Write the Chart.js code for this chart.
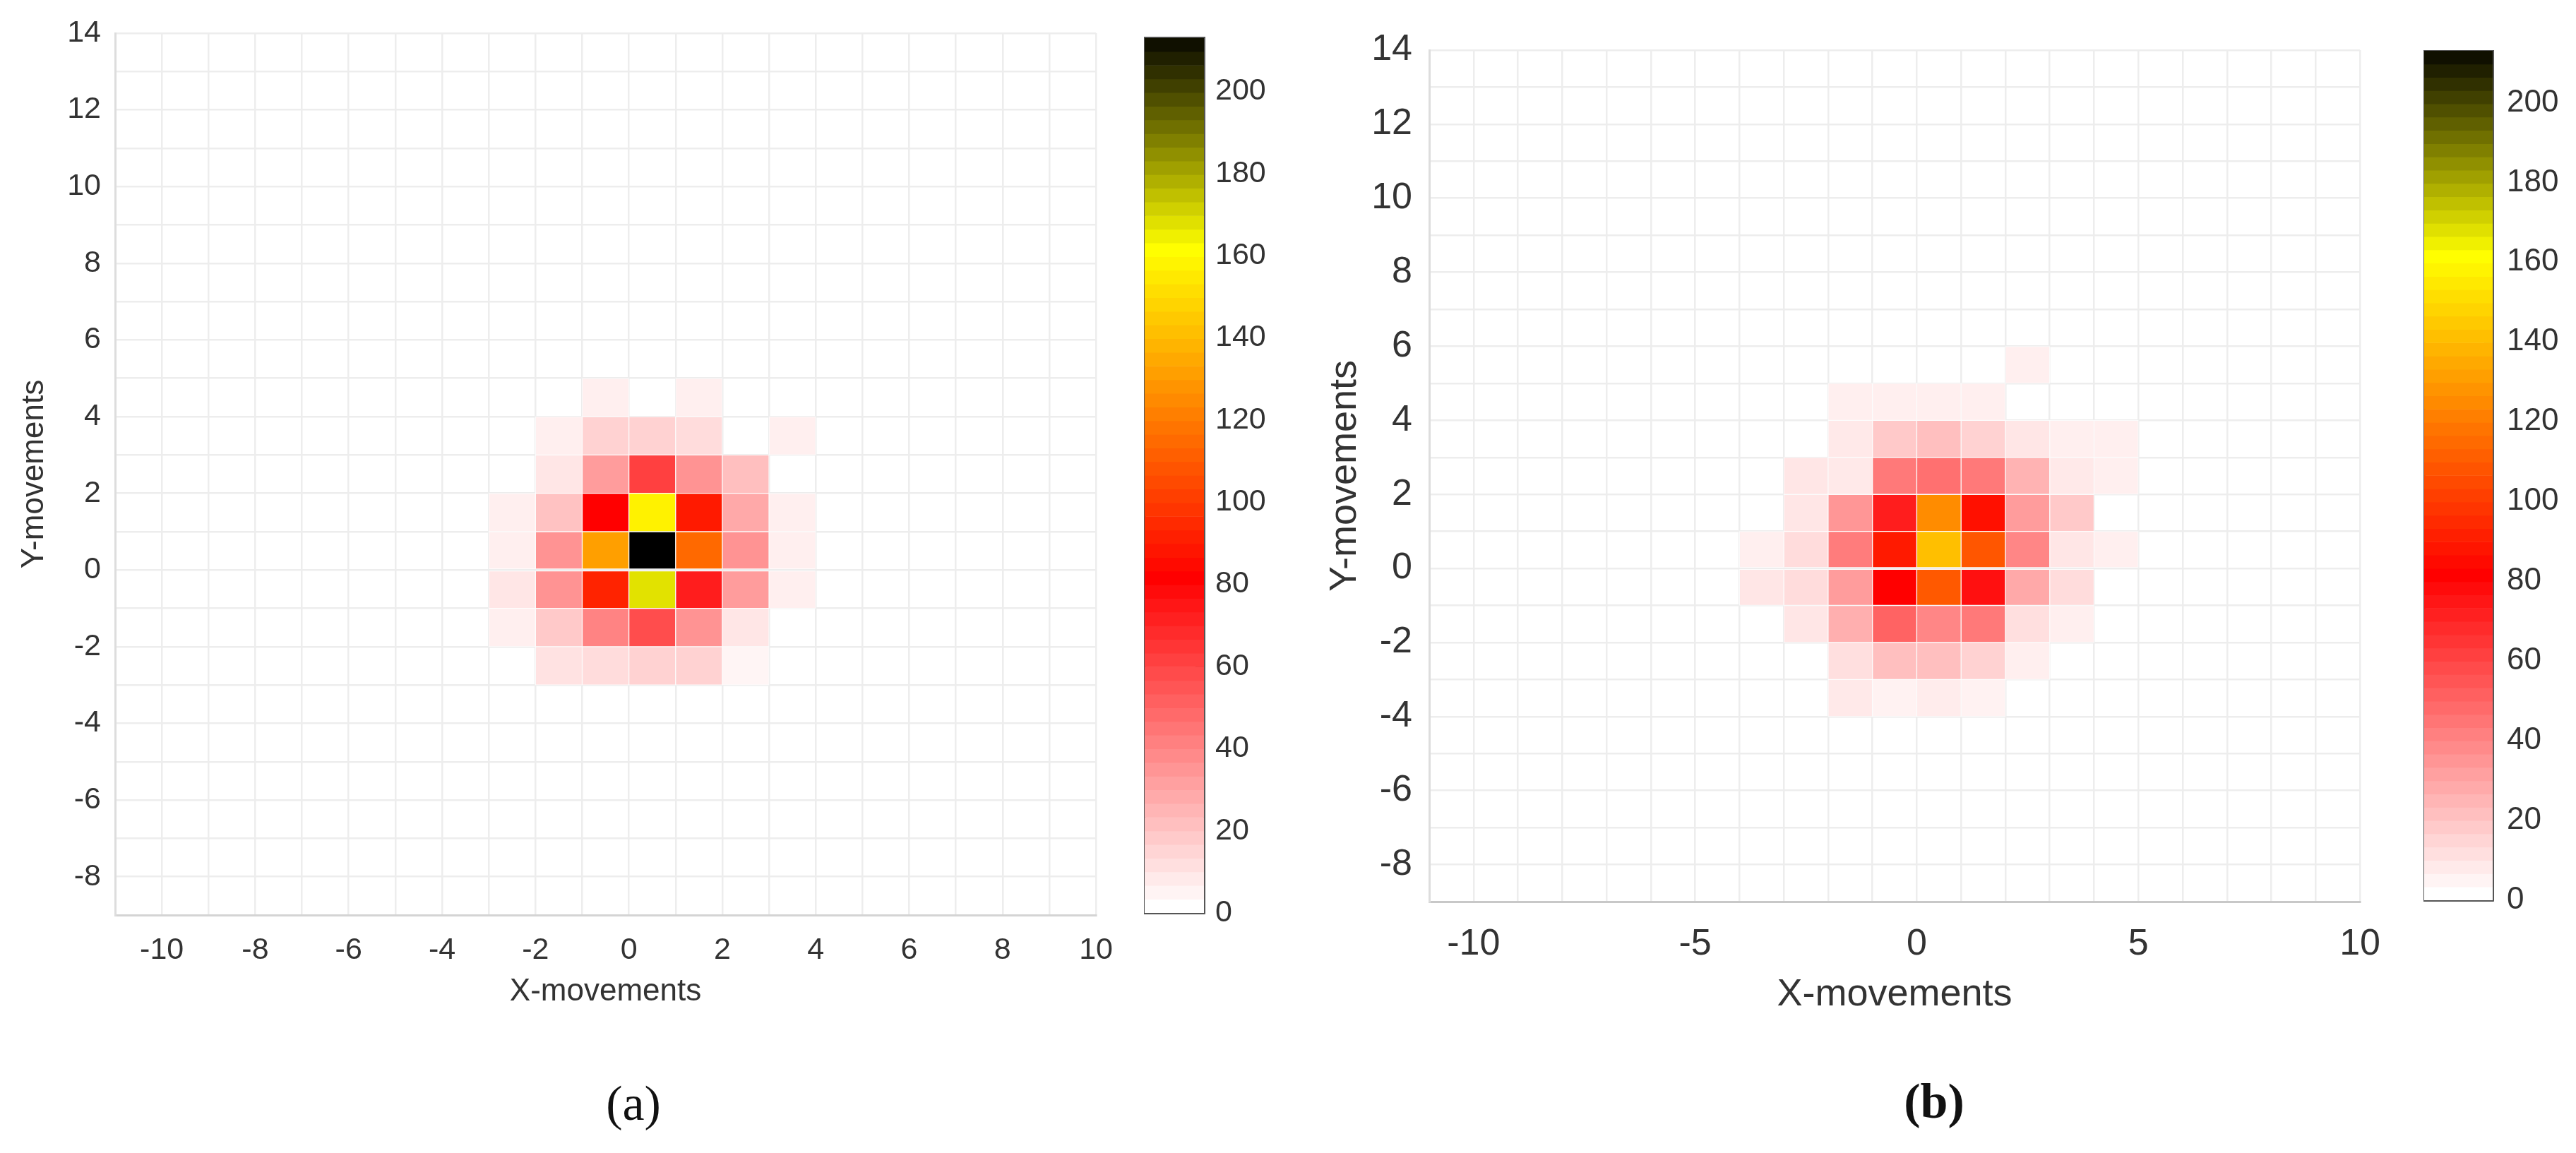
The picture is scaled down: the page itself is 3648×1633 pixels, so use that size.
<!DOCTYPE html>
<html>
<head>
<meta charset="utf-8">
<script src="https://cdn.jsdelivr.net/npm/chart.js@4.4.1/dist/chart.umd.min.js"></script>
<style>
  body { margin: 0; background: #fff; }
  #page { position: relative; width: 3648px; height: 1633px; background: #fff; overflow: hidden; }
  canvas { position: absolute; top: 0; }
  .tag { position: absolute; width: 400px; text-align: center; font-family: "Liberation Serif", serif; font-size: 70px; line-height: 80px; color: #111; }
</style>
</head>
<body>
<div id="page">
  <canvas id="heatA" width="1600" height="1500" style="left:0px"></canvas>
  <canvas id="barA" width="200" height="1400" style="left:1600px"></canvas>
  <canvas id="heatB" width="1600" height="1500" style="left:1800px"></canvas>
  <canvas id="barB" width="248" height="1400" style="left:3400px"></canvas>
  <div class="tag" style="left:697px; top:1523px;">(a)</div>
  <div class="tag" style="left:2539px; top:1520px; font-weight:bold;">(b)</div>
</div>
<script>
// cell lower-left corners (x across, y rows top to bottom)
const cellX = [-4, -3, -2, -1, 0, 1, 2, 3, 4];
const cellY = [5, 4, 3, 2, 1, 0, -1, -2, -3, -4];

// counts per cell, panel (a)
const countsA = [
  [0, 0, 0, 0, 0, 0, 0, 0, 0],
  [0, 0, 0, 5, 0, 5, 0, 0, 0],
  [0, 0, 5, 14, 14, 11, 0, 5, 0],
  [0, 0, 8, 31, 60, 34, 20, 0, 0],
  [0, 5, 19, 80, 156, 88, 27, 5, 0],
  [0, 5, 34, 130, 213, 113, 34, 5, 0],
  [0, 8, 34, 91, 166, 71, 31, 5, 0],
  [0, 5, 17, 39, 56, 34, 8, 0, 0],
  [0, 0, 9, 11, 14, 14, 3, 0, 0],
  [0, 0, 0, 0, 0, 0, 0, 0, 0]
];

// counts per cell, panel (b)
const countsB = [
  [0, 0, 0, 0, 0, 0, 5, 0, 0],
  [0, 0, 5, 5, 5, 5, 0, 0, 0],
  [0, 0, 7, 17, 20, 14, 8, 5, 5],
  [0, 8, 7, 42, 45, 42, 24, 7, 5],
  [0, 8, 33, 71, 124, 85, 31, 17, 0],
  [5, 11, 41, 88, 140, 107, 38, 8, 5],
  [8, 11, 31, 80, 108, 75, 27, 11, 0],
  [0, 8, 25, 49, 38, 42, 10, 5, 0],
  [0, 0, 10, 20, 20, 14, 5, 0, 0],
  [0, 0, 7, 4, 6, 4, 0, 0, 0]
];

const xTicksA = [-10, -8, -6, -4, -2, 0, 2, 4, 6, 8, 10];
const xTicksB = [-10, -5, 0, 5, 10];
const yTicks = [-8, -6, -4, -2, 0, 2, 4, 6, 8, 10, 12, 14];
const barTicks = [0, 20, 40, 60, 80, 100, 120, 140, 160, 180, 200];
const countMax = 213;
const levels = 64;

// white -> red -> yellow -> black
function heatColor(v) {
  let r, g, b;
  if (v <= 80) {
    const t = 1 - v / 80;
    r = 255; g = 255 * t; b = 255 * t;
  } else if (v <= 160) {
    r = 255; g = 255 * (v - 80) / 80; b = 0;
  } else {
    const t = Math.max(0, (countMax - v) / (countMax - 160));
    r = 255 * t; g = 255 * t; b = 0;
  }
  return 'rgb(' + Math.round(r) + ',' + Math.round(g) + ',' + Math.round(b) + ')';
}

function buildCells(counts) {
  const out = [];
  counts.forEach(function (row, r) {
    row.forEach(function (v, c) {
      if (v > 0) out.push({ x: cellX[c] + 0.5, y: [cellY[r], cellY[r] + 1], v: v });
    });
  });
  return out;
}

function heatmap(id, counts, opt) {
  return new Chart(document.getElementById(id), {
    type: 'bar',
    data: {
      datasets: [{
        data: buildCells(counts),
        backgroundColor: function (ctx) { return ctx.raw ? heatColor(ctx.raw.v) : '#fff'; },
        borderColor: 'rgba(255,255,255,0.75)',
        borderWidth: 1,
        borderSkipped: false,
        barPercentage: 1,
        categoryPercentage: 1
      }]
    },
    options: {
      responsive: false,
      animation: false,
      devicePixelRatio: 1,
      layout: { padding: { left: 0, top: opt.top, right: opt.right, bottom: 0 } },
      plugins: { legend: { display: false }, tooltip: { enabled: false } },
      scales: {
        x: {
          type: 'linear', min: -11, max: 10, offset: false,
          afterFit: function (s) { s.height = opt.xHeight; },
          grid: { offset: false, color: '#ededed', lineWidth: 2.5, drawTicks: false },
          border: { color: opt.bottomBorder, width: 3 },
          ticks: {
            stepSize: 1, autoSkip: false, maxRotation: 0, padding: opt.xPad,
            color: '#333', font: { family: 'Liberation Sans', size: opt.tickSize },
            callback: function (v) { return opt.xTicks.includes(v) ? String(v) : ''; }
          },
          title: {
            display: true, text: 'X-movements', color: '#333',
            font: { family: 'Liberation Sans', size: opt.titleSize },
            padding: { top: 0, bottom: opt.xTitlePad }
          }
        },
        y: {
          type: 'linear', min: -9, max: 14,
          afterFit: function (s) { s.width = opt.yWidth; },
          grid: { color: '#ededed', lineWidth: 2.5, drawTicks: false },
          border: { color: '#dddddd', width: 3 },
          ticks: {
            stepSize: 1, autoSkip: false, padding: opt.yPad,
            color: '#333', font: { family: 'Liberation Sans', size: opt.tickSize },
            callback: function (v) { return yTicks.includes(v) ? String(v) : ''; }
          },
          title: {
            display: true, text: 'Y-movements', color: '#333',
            font: { family: 'Liberation Sans', size: opt.titleSize },
            padding: { top: opt.yTitlePad, bottom: 0 }
          }
        }
      }
    }
  });
}

function colorbar(id, opt) {
  const bands = [];
  for (let k = 0; k < levels; k++) {
    const lo = k * countMax / levels;
    bands.push({ x: 'c', y: [lo, lo + countMax / levels], v: lo });
  }
  const edge = { display: true, color: '#555', width: 3 };
  const hidden = { display: false };
  return new Chart(document.getElementById(id), {
    type: 'bar',
    data: {
      labels: ['c'],
      datasets: [{
        data: bands,
        backgroundColor: function (ctx) { return ctx.raw ? heatColor(ctx.raw.v) : '#fff'; },
        borderWidth: 0,
        barPercentage: 1,
        categoryPercentage: 1
      }]
    },
    options: {
      responsive: false,
      animation: false,
      devicePixelRatio: 1,
      layout: { padding: opt.pad },
      plugins: { legend: { display: false }, tooltip: { enabled: false } },
      scales: {
        x: {
          type: 'category', position: 'bottom',
          afterFit: function (s) { s.height = 0; },
          grid: hidden, border: edge, ticks: hidden
        },
        xTop: {
          type: 'category', position: 'top',
          afterFit: function (s) { s.height = 0; },
          grid: hidden, border: edge, ticks: hidden
        },
        yLeft: {
          type: 'linear', position: 'left', min: 0, max: countMax,
          afterFit: function (s) { s.width = 0; },
          grid: hidden, border: edge, ticks: hidden
        },
        y: {
          type: 'linear', position: 'right', min: 0, max: countMax,
          afterFit: function (s) { s.width = opt.axisWidth; },
          // short tick marks pointing into the bar
          grid: { drawOnChartArea: false, drawTicks: true, tickLength: -12, color: '#444', lineWidth: 2.5 },
          border: edge,
          ticks: {
            stepSize: 20, includeBounds: false, autoSkip: false, padding: opt.tickPad + 12,
            color: '#333', font: { family: 'Liberation Sans', size: opt.tickSize },
            callback: function (v) { return barTicks.includes(v) ? String(v) : ''; }
          }
        }
      }
    }
  });
}

heatmap('heatA', countsA, {
  top: 47, right: 46, xHeight: 204, yWidth: 163,
  tickSize: 43, titleSize: 44, xPad: 24, yPad: 20,
  xTitlePad: 69, yTitlePad: 22, xTicks: xTicksA, bottomBorder: '#d4d4d4'
});
heatmap('heatB', countsB, {
  top: 71, right: 42, xHeight: 223, yWidth: 224,
  tickSize: 52, titleSize: 54, xPad: 29, yPad: 24,
  xTitlePad: 58, yTitlePad: 73, xTicks: xTicksB, bottomBorder: '#c8c8c8'
});
colorbar('barA', { pad: { left: 21, top: 46, right: 0, bottom: 107 }, axisWidth: 95, tickPad: 16, tickSize: 43 });
colorbar('barB', { pad: { left: 33, top: 72, right: 0, bottom: 125 }, axisWidth: 118, tickPad: 20, tickSize: 44 });
</script>
</body>
</html>
